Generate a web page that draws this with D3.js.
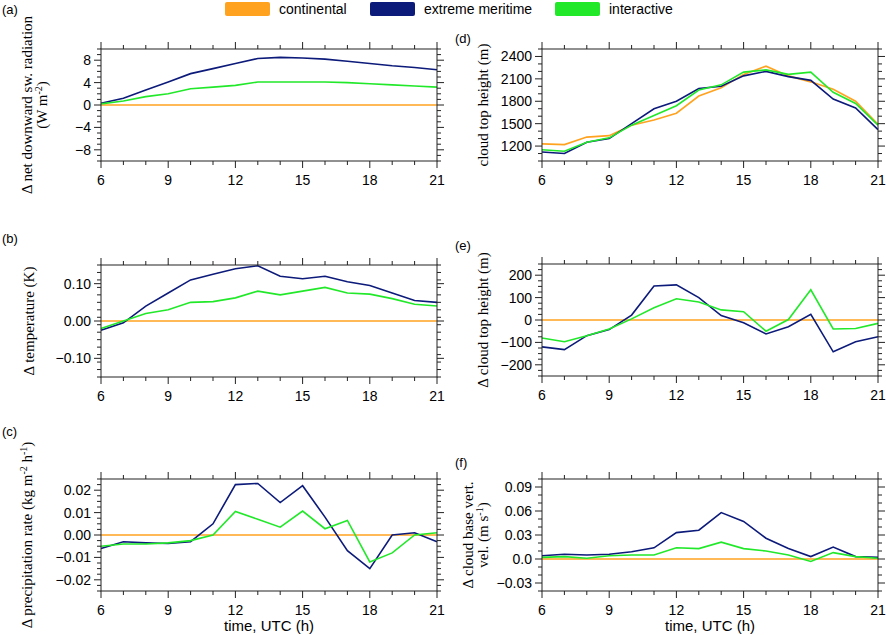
<!DOCTYPE html>
<html lang="en">
<head>
<meta charset="utf-8">
<style>
  body { margin: 0; background: #fff; }
  svg { font-family: "Liberation Sans", Arial, sans-serif; }
  .ylab { font-family: "Liberation Serif", "Times New Roman", serif; font-size: 15px; }
</style>
</head>
<body>
<div id="chart"></div>
<script src="https://d3js.org/d3.v7.min.js"></script>
<script>
const hours = d3.range(6, 22);
const seriesNames = ["continental", "extreme meritime", "interactive"];
const seriesColors = ["#ffa21f", "#0c1a7a", "#22e82a"];

const radBlue = [0.3,1.2,2.7,4.1,5.6,6.5,7.4,8.3,8.5,8.4,8.2,7.8,7.4,7.0,6.7,6.3];
const radGreen = [0.2,0.7,1.5,2.0,2.9,3.2,3.5,4.1,4.1,4.1,4.1,4.0,3.8,3.6,3.4,3.2];
const tempBlue = [-0.025,-0.005,0.04,0.075,0.11,0.125,0.14,0.148,0.12,0.113,0.12,0.105,0.095,0.075,0.055,0.05];
const tempGreen = [-0.02,0,0.02,0.03,0.05,0.052,0.062,0.08,0.07,0.08,0.09,0.075,0.072,0.06,0.045,0.04];
const precBlue = [-0.006,-0.003,-0.0035,-0.0038,-0.003,0.005,0.0225,0.023,0.0145,0.022,0.008,-0.007,-0.015,0,0.001,-0.003];
const precGreen = [-0.005,-0.004,-0.004,-0.0035,-0.0025,0,0.0105,0.007,0.0035,0.0107,0.0028,0.0065,-0.012,-0.008,0,0.001];
const cthOrange = [1230,1220,1320,1340,1480,1550,1640,1870,1980,2160,2270,2140,2060,1960,1800,1490];
const cthBlue = [1120,1100,1250,1300,1500,1700,1800,1970,2000,2140,2200,2130,2080,1830,1710,1420];
const cthGreen = [1150,1130,1250,1310,1480,1610,1740,1950,2020,2190,2220,2160,2190,1920,1770,1480];
const dcthBlue = [-120,-132,-70,-43,22,152,157,100,20,-12,-62,-30,25,-142,-97,-75];
const dcthGreen = [-80,-97,-70,-40,5,55,95,80,45,37,-50,2,135,-40,-38,-15];
const velBlue = [0.004,0.006,0.005,0.006,0.009,0.014,0.033,0.036,0.058,0.047,0.026,0.013,0.003,0.015,0.003,0.002];
const velGreen = [0.002,0.003,0.001,0.004,0.005,0.005,0.014,0.013,0.021,0.013,0.010,0.005,-0.003,0.008,0.003,0.001];
const zero = hours.map(() => 0);

const panels = [
  { tag: "(a)", tagX: 2, tagY: 14, x0: 101, y0: 49, dom: [-10, 10], ticks: [-8,-4,0,4,8], fmt: d3.format("d"), minor: 1,
    lab: ["\u0394 net downward sw. radiation", "(W m<sup>-2</sup>)"], labX: [32, 47],
    series: [zero, radBlue, radGreen] },
  { tag: "(b)", tagX: 2, tagY: 243, x0: 101, y0: 265, dom: [-0.15, 0.15], ticks: [-0.1,0,0.1], fmt: d3.format(".2f"), minor: 0.02,
    lab: ["\u0394 temperature (K)"], labX: [34], series: [zero, tempBlue, tempGreen] },
  { tag: "(c)", tagX: 2, tagY: 436, x0: 101, y0: 479, dom: [-0.025, 0.025], ticks: [-0.02,-0.01,0,0.01,0.02], fmt: d3.format(".2f"), minor: 0.0025,
    lab: ["\u0394 precipitation rate (kg m<sup>-2</sup> h<sup>-1</sup>)"], labX: [32], series: [zero, precBlue, precGreen] },
  { tag: "(d)", tagX: 455, tagY: 43, x0: 542, y0: 49, dom: [1000, 2500], ticks: [1200,1500,1800,2100,2400], fmt: d3.format("d"), minor: 100,
    lab: ["cloud top height (m)"], labX: [488], series: [cthOrange, cthBlue, cthGreen] },
  { tag: "(e)", tagX: 455, tagY: 250, x0: 542, y0: 264, dom: [-250, 250], ticks: [-200,-100,0,100,200], fmt: d3.format("d"), minor: 25,
    lab: ["\u0394 cloud top height (m)"], labX: [488], series: [zero, dcthBlue, dcthGreen] },
  { tag: "(f)", tagX: 455, tagY: 467, x0: 542, y0: 479, dom: [-0.04, 0.1], ticks: [-0.03,0,0.03,0.06,0.09], fmt: v => v === 0 ? "0.0" : d3.format(".2f")(v), minor: 0.01,
    lab: ["\u0394 cloud base vert.", "vel. (m s<sup>-1</sup>)"], labX: [473, 488], series: [zero, velBlue, velGreen] }
];

const W = 886, H = 635, pw = 336, ph = 112;
const svg = d3.select("#chart").append("svg").attr("width", W).attr("height", H);

// legend
const legX = [225, 370, 555];
seriesNames.forEach((n, i) => {
  svg.append("rect").attr("x", legX[i]).attr("y", 2).attr("width", 45).attr("height", 14).attr("rx", 2).attr("fill", seriesColors[i]);
  svg.append("text").attr("x", legX[i] + 54).attr("y", 14).attr("font-size", 14).text(n);
});

function sup(sel, str) {
  str.split(/(<sup>.*?<\/sup>)/).forEach(part => {
    const m = part.match(/<sup>(.*?)<\/sup>/);
    if (m) sel.append("tspan").attr("font-size", 10).attr("baseline-shift", "super").text(m[1]);
    else if (part) sel.append("tspan").text(part);
  });
}

panels.forEach(p => {
  const x = d3.scaleLinear().domain([6, 21]).range([p.x0, p.x0 + pw]);
  const y = d3.scaleLinear().domain(p.dom).range([p.y0 + ph, p.y0]);
  const g = svg.append("g");
  const major = [6, 9, 12, 15, 18, 21];
  const minorX = hours.filter(h => !major.includes(h));
  const nMin = Math.round((p.dom[1] - p.dom[0]) / p.minor);
  const minorY = d3.range(0, nMin + 1).map(i => p.dom[0] + i * p.minor)
    .filter(v => !p.ticks.some(t => Math.abs(t - v) < p.minor / 10));
  const tick = (x1, y1, x2, y2) => g.append("line").attr("x1", x1).attr("y1", y1).attr("x2", x2).attr("y2", y2)
    .attr("stroke", "#222").attr("stroke-width", 1);

  major.forEach(h => { tick(x(h), p.y0, x(h), p.y0 - 7); tick(x(h), p.y0 + ph, x(h), p.y0 + ph + 7); });
  minorX.forEach(h => { tick(x(h), p.y0, x(h), p.y0 - 4); tick(x(h), p.y0 + ph, x(h), p.y0 + ph + 4); });
  p.ticks.forEach(v => { tick(p.x0, y(v), p.x0 - 7, y(v)); tick(p.x0 + pw, y(v), p.x0 + pw + 7, y(v)); });
  minorY.forEach(v => { tick(p.x0, y(v), p.x0 - 4, y(v)); tick(p.x0 + pw, y(v), p.x0 + pw + 4, y(v)); });

  major.forEach(h => g.append("text").attr("x", x(h)).attr("y", p.y0 + ph + 24).attr("text-anchor", "middle")
    .attr("font-size", 14).text(h));
  p.ticks.forEach(v => g.append("text").attr("x", p.x0 - 10).attr("y", y(v) + 5).attr("text-anchor", "end")
    .attr("font-size", 14).text(p.fmt(v).replace("-", "\u2212")));

  const line = d3.line().x((d, i) => x(hours[i])).y(d => y(d));
  p.series.forEach((s, i) => g.append("path").attr("d", line(s)).attr("fill", "none")
    .attr("stroke", seriesColors[i]).attr("stroke-width", 1.6));

  g.append("rect").attr("x", p.x0).attr("y", p.y0).attr("width", pw).attr("height", ph)
    .attr("fill", "none").attr("stroke", "#222").attr("stroke-width", 1);

  g.append("text").attr("x", p.tagX).attr("y", p.tagY).attr("font-size", 13).text(p.tag);

  p.lab.forEach((l, j) => {
    const t = g.append("text").attr("class", "ylab").attr("text-anchor", "middle")
      .attr("transform", `translate(${p.labX[j]},${p.y0 + ph / 2}) rotate(-90)`);
    sup(t, l);
  });

  if (p.y0 > 400) g.append("text").attr("x", p.x0 + pw / 2).attr("y", 631).attr("text-anchor", "middle")
    .attr("font-size", 15).text("time, UTC (h)");
});
</script>
</body>
</html>
